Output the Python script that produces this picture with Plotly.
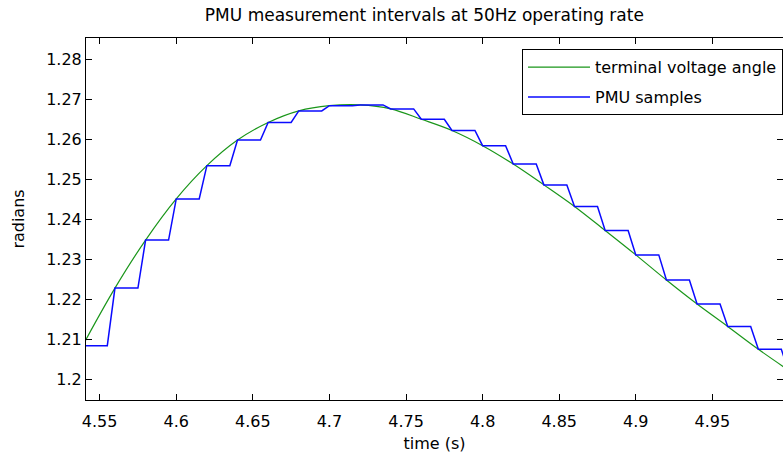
import plotly.graph_objects as go

# PMU sample times (s) and sampled angle (rad) at 50 Hz
sample_t = [4.54, 4.56, 4.58, 4.60, 4.62, 4.64, 4.66, 4.68, 4.70, 4.72, 4.74, 4.76,
            4.78, 4.80, 4.82, 4.84, 4.86, 4.88, 4.90, 4.92, 4.94, 4.96, 4.98, 5.00]
sample_v = [1.2084, 1.2228, 1.2348, 1.2451, 1.2534, 1.2598, 1.2642, 1.2671, 1.2684, 1.2686,
            1.2676, 1.2650, 1.2622, 1.2584, 1.2538, 1.2486, 1.2432, 1.2372, 1.2311, 1.2248,
            1.2188, 1.2132, 1.2075, 1.2018]

# terminal voltage angle (continuous curve)
angle_t = [4.54, 4.56, 4.58, 4.60, 4.62, 4.64, 4.66, 4.68, 4.70, 4.72, 4.74, 4.76,
           4.78, 4.80, 4.82, 4.84, 4.86, 4.88, 4.90, 4.92, 4.94, 4.96, 4.98, 5.00]
angle_v = [1.2092, 1.2228, 1.2348, 1.2451, 1.2534, 1.2598, 1.2642, 1.2671, 1.2684, 1.2686,
           1.2676, 1.2650, 1.2622, 1.2584, 1.2538, 1.2486, 1.2432, 1.2372, 1.2311, 1.2248,
           1.2188, 1.2132, 1.2075, 1.2022]

ramp = 0.005  # simulation step between hold and new sample

x_ticks = [4.55, 4.6, 4.65, 4.7, 4.75, 4.8, 4.85, 4.9, 4.95]
x_tick_text = ["4.55", "4.6", "4.65", "4.7", "4.75", "4.8", "4.85", "4.9", "4.95"]
y_ticks = [1.2, 1.21, 1.22, 1.23, 1.24, 1.25, 1.26, 1.27, 1.28]
y_tick_text = ["1.2", "1.21", "1.22", "1.23", "1.24", "1.25", "1.26", "1.27", "1.28"]

# build sample-and-hold trace
bx, by = [], []
for i, (t, v) in enumerate(zip(sample_t, sample_v)):
    bx.append(t)
    by.append(v)
    if i + 1 < len(sample_t):
        bx.append(sample_t[i + 1] - ramp)
        by.append(v)

FONT = "DejaVu Sans"

fig = go.Figure()
fig.add_trace(go.Scatter(x=angle_t, y=angle_v, mode="lines", name="terminal voltage angle",
                         legendgroup="g1",
                         line=dict(color="#1a961a", width=1.2, shape="spline", smoothing=1.0)))
fig.add_trace(go.Scatter(x=bx, y=by, mode="lines", name="PMU samples",
                         legendgroup="g2",
                         line=dict(color="#0a0aff", width=1.5)))

axis_common = dict(showgrid=False, zeroline=False, showline=True, linecolor="black",
                   linewidth=1, mirror="ticks", ticks="inside", ticklen=6, tickwidth=1,
                   tickcolor="black", tickfont=dict(family=FONT, size=16, color="black"))

fig.update_layout(
    width=783, height=457,
    margin=dict(l=86, r=0, t=38, b=57),
    paper_bgcolor="white", plot_bgcolor="white",
    title=dict(text="PMU measurement intervals at 50Hz operating rate",
               font=dict(family=FONT, size=17, color="black"),
               x=0.542, xanchor="center", y=0.966, yanchor="middle"),
    xaxis=dict(range=[4.5411, 4.9961], tickvals=x_ticks, ticktext=x_tick_text,
               ticklabelstandoff=7,
               title=dict(text="time (s)", font=dict(family=FONT, size=16, color="black"),
                          standoff=7),
               **axis_common),
    yaxis=dict(range=[1.19482, 1.28532], tickvals=y_ticks, ticktext=y_tick_text,
               title=dict(text="radians", font=dict(family=FONT, size=16, color="black"),
                          standoff=17),
               **axis_common),
    legend=dict(x=1.0, xanchor="right", y=0.969, yanchor="top",
                bordercolor="black", borderwidth=1, bgcolor="white",
                itemwidth=62, tracegroupgap=6, traceorder="grouped",
                font=dict(family=FONT, size=16, color="black")),
    showlegend=True,
)

fig.write_html("out.html")
